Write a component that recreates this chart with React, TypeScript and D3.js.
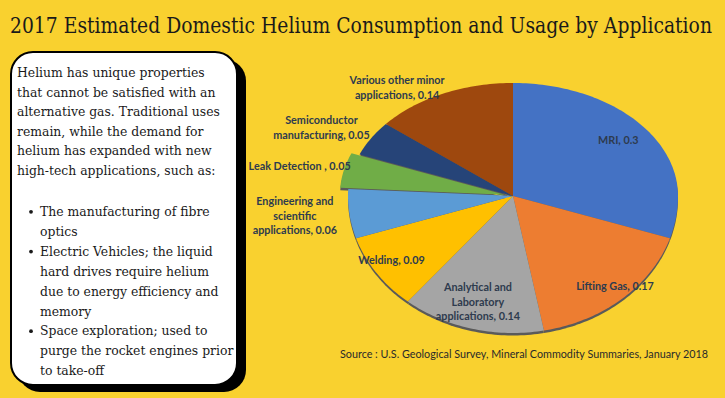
import React from 'react';
import * as d3 from 'd3';

const W = 725;
const H = 398;

const categories = [
  'MRI',
  'Lifting Gas',
  'Analytical and Laboratory applications',
  'Welding',
  'Engineering and scientific applications',
  'Leak Detection ',
  'Semiconductor manufacturing',
  'Various other minor applications',
];
const values = [0.3, 0.17, 0.14, 0.09, 0.06, 0.05, 0.05, 0.14];
const colors = ['#4472C4', '#ED7D31', '#A5A5A5', '#FFC000', '#5B9BD5', '#70AD47', '#264478', '#9E480E'];
const labelLines = [
  ['MRI, 0.3'],
  ['Lifting Gas, 0.17'],
  ['Analytical and', 'Laboratory', 'applications, 0.14'],
  ['Welding, 0.09'],
  ['Engineering and', 'scientific', 'applications, 0.06'],
  ['Leak Detection , 0.05'],
  ['Semiconductor', 'manufacturing, 0.05'],
  ['Various other minor', 'applications, 0.14'],
];
// label placement in ellipse-normalised polar coords
const labelRadius = [0.81, 0.9, 0.8, 0.87, 1.33, 1.32, 1.31, 1.19];
const labelAngleShift = [-2, -2, 1, 2, 1, -1, -3, -11];
const exploded = [0, 0, 0, 0, 0, 0.05, 0, 0];

const introLines = [
  'Helium has unique properties',
  'that cannot be satisfied with an',
  'alternative gas. Traditional uses',
  'remain, while the demand for',
  'helium has expanded with new',
  'high-tech applications, such as:',
];
const bullets = [
  ['The manufacturing of fibre', 'optics'],
  ['Electric Vehicles; the liquid', 'hard drives require helium', 'due to energy efficiency and', 'memory'],
  ['Space exploration; used to', 'purge the rocket engines prior', 'to take-off'],
];

const cx = 513;
const cy = 196;
const rx = 165;
const ryTop = 113;
const ryBot = 137;

// map unit-circle point to the tilted pie
const proj = (nx: number, ny: number): [number, number] => [
  cx + nx * rx,
  cy + ny * (ny < 0 ? ryTop : ryBot),
];

export default function App() {
  const pie = d3.pie<number>().sort(null).value((d) => d);
  const arcs = pie(values);
  const line = d3.line().curve(d3.curveLinearClosed);

  const slicePath = (a0: number, a1: number, off: number) => {
    const mid = (a0 + a1) / 2;
    const ox = Math.sin(mid) * off;
    const oy = -Math.cos(mid) * off;
    const pts: [number, number][] = [proj(ox, oy)];
    const n = Math.max(4, Math.ceil((a1 - a0) / 0.02));
    for (let i = 0; i <= n; i++) {
      const t = a0 + ((a1 - a0) * i) / n;
      pts.push(proj(Math.sin(t) + ox, -Math.cos(t) + oy));
    }
    return line(pts) as string;
  };

  const lh = 14.5;

  return (
    <svg
      width={W}
      height={H}
      style={{ position: 'absolute', left: 0, top: 0 }}
      xmlns="http://www.w3.org/2000/svg"
    >
      <rect width={W} height={H} fill="#F9D12F" />
      <g transform="translate(10,33) scale(1,1.2)">
        <text
          x={0}
          y={0}
          fontFamily="'DejaVu Serif', serif"
          fontSize={18}
          fill="#1a1a1a"
          textLength={702}
          lengthAdjust="spacingAndGlyphs"
        >
          2017 Estimated Domestic Helium Consumption and Usage by Application
        </text>
      </g>

      {/* text card */}
      <rect x={18} y={59} width={228} height={333} rx={22} fill="#000" />
      <rect x={11} y={52} width={226} height={333} rx={22} fill="#fff" stroke="#000" strokeWidth={2} />
      <g fontFamily="'DejaVu Serif', serif" fontSize={12.4} fill="#1a1a1a">
        {introLines.map((t, i) => (
          <text key={i} x={17} y={77 + i * 19.5}>
            {t}
          </text>
        ))}
        {(() => {
          let row = 0;
          return bullets.map((b, bi) => {
            const startRow = row;
            row += b.length;
            return (
              <g key={bi}>
                <circle cx={31} cy={216 + startRow * 19.9 - 4.2} r={1.9} fill="#1a1a1a" />
                {b.map((t, j) => (
                  <text key={j} x={40} y={216 + (startRow + j) * 19.9}>
                    {t}
                  </text>
                ))}
              </g>
            );
          });
        })()}
      </g>

      {/* pie: 3D edge then slices */}
      <g transform="translate(0,2.5)">
        {arcs.map((a, i) => (
          <path key={i} d={slicePath(a.startAngle, a.endAngle, exploded[i])} fill="#5a5a5a" />
        ))}
      </g>
      {arcs.map((a, i) => (
        <path key={i} d={slicePath(a.startAngle, a.endAngle, exploded[i])} fill={colors[i]} />
      ))}

      <g fontFamily="Lato, 'Open Sans', sans-serif" fontWeight={700} fontSize={10.8} fill="#2E3B4E" textAnchor="middle">
        {arcs.map((a, i) => {
          const mid = (a.startAngle + a.endAngle) / 2 + (labelAngleShift[i] * Math.PI) / 180;
          const r = labelRadius[i];
          const [x, y] = proj(Math.sin(mid) * r, -Math.cos(mid) * r);
          const ls = labelLines[i];
          const y0 = y - ((ls.length - 1) * lh) / 2 + 4;
          return (
            <text key={i} x={x}>
              {ls.map((t, j) => (
                <tspan key={j} x={x} y={y0 + j * lh}>
                  {t}
                </tspan>
              ))}
            </text>
          );
        })}
      </g>

      <text
        x={708}
        y={358}
        textAnchor="end"
        fontFamily="Lato, 'Open Sans', sans-serif"
        fontSize={11}
        fill="#2a2a2a"
        textLength={368}
        lengthAdjust="spacingAndGlyphs"
      >
        Source : U.S. Geological Survey, Mineral Commodity Summaries, January 2018
      </text>
    </svg>
  );
}
